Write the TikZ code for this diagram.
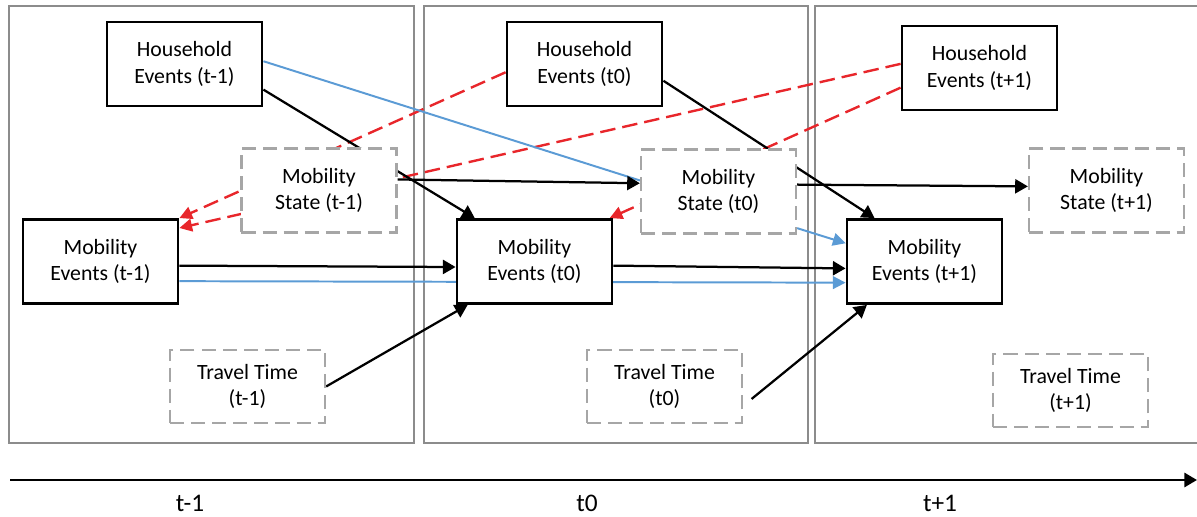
\documentclass[tikz,border=0pt]{standalone}
\usepackage{fontspec}
\setmainfont{Carlito}
\usepackage{tikz}
\usetikzlibrary{arrows.meta,backgrounds}
\definecolor{cFrame}{HTML}{8C8C8C}
\definecolor{cDash}{HTML}{A6A6A6}
\definecolor{cBlue}{HTML}{5B9BD5}
\definecolor{cRed}{HTML}{E8262B}

\begin{document}
\begin{tikzpicture}[
  x=0.025cm,y=-0.025cm,
  font=\fontsize{15.5}{19}\selectfont,
  box/.style={draw,line width=2pt,fill=white,minimum width=3.875cm,minimum height=2.1cm,align=center,inner sep=0pt},
  dbox/.style={box,draw=cDash,line width=1.6pt,dash pattern=on 10pt off 5pt},
  ttbox/.style={dbox,minimum height=1.825cm},
  frame/.style={cFrame,line width=1.6pt},
  ar/.style={-{Triangle[length=9pt,width=10pt]},line width=1.6pt},
  bl/.style={cBlue,line width=1.4pt},
  rd/.style={cRed,line width=1.7pt,dash pattern=on 11pt off 5pt,-{Triangle[length=9pt,width=9pt]}}
]
\useasboundingbox (0,0) rectangle (1197,517);
% time slices
\begin{scope}[on background layer]
  \draw[frame] (9,6) rectangle (414,443);
  \draw[frame] (424,6) rectangle (808,443);
  \draw[frame] (1197,6) -| (815,443) -- (1197,443);
\end{scope}
% t-1
\node[box] (he1) at (184.5,64) {Household\\Events (t-1)};
\node[dbox] (ms1) at (319,190.5) {Mobility\\State (t-1)};
\node[box] (me1) at (100.5,261.5) {Mobility\\Events (t-1)};
\node[ttbox] (tt1) at (247.5,386.5) {Travel Time\\(t-1)};
% t0
\node[box] (he2) at (584.5,64) {Household\\Events (t0)};
\node[dbox] (ms2) at (718.5,191.5) {Mobility\\State (t0)};
\node[box] (me2) at (534.5,261.5) {Mobility\\Events (t0)};
\node[ttbox] (tt2) at (664.5,386.5) {Travel Time\\(t0)};
% t+1
\node[box] (he3) at (979.5,68) {Household\\Events (t+1)};
\node[dbox] (ms3) at (1106.5,190.5) {Mobility\\State (t+1)};
\node[box] (me3) at (924.5,261.5) {Mobility\\Events (t+1)};
\node[ttbox] (tt3) at (1070.5,390.5) {Travel Time\\(t+1)};
% links, kept under the boxes
\begin{scope}[on background layer]
  \draw[rd] (he2.186) -- (me1.north east);
  \draw[rd] (he3.177) -- (me1.23);
  \draw[rd] (he3.194) -- (me2.30);
  \draw[bl] (he1.2) -- (ms2.172);
  \draw[bl,-{Triangle[length=9pt,width=9pt]}] (me1.-14) -- (me3.195);
  \draw[bl,-{Triangle[length=9pt,width=9pt]}] (ms2.-25) -- (me3.167);
  \draw[ar] (he1.-18) -- (me2.144);
  \draw[ar] (ms1.8) -- (ms2.174);
  \draw[ar] (me1.-3) -- (me2.184);
  \draw[ar] (tt1.east) -- (me2.213);
  \draw[ar] (he2.-12) -- (me3.139);
  \draw[ar] (ms2.5) -- (ms3.177);
  \draw[ar] (me2.-3) -- (me3.185);
  \draw[ar] ([xshift=6pt]tt2.-9) -- (me3.217);
\end{scope}
% time axis
\coordinate (tstart) at (10,480);
\coordinate (tend) at (1197,480);
\draw[ar,line width=2pt] (tstart) -- (tend);
\node[font=\fontsize{18}{20}\selectfont] (lab1) at (190,503) {t-1};
\node[font=\fontsize{18}{20}\selectfont] (lab2) at (587,503) {t0};
\node[font=\fontsize{18}{20}\selectfont] (lab3) at (940,503) {t+1};
\end{tikzpicture}
\end{document}
